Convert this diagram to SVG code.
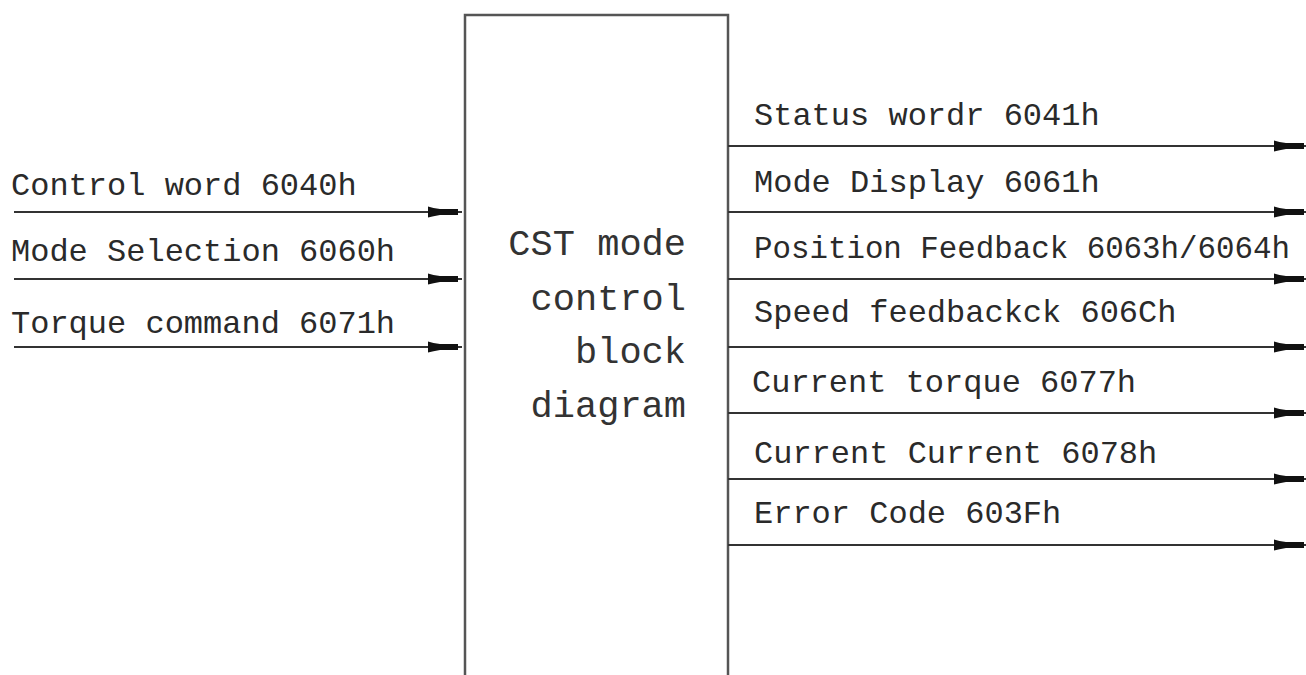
<svg xmlns="http://www.w3.org/2000/svg" xmlns:xlink="http://www.w3.org/1999/xlink" width="1306" height="675" viewBox="0 0 1306 675">
<style>
.lbl{font-family:"Liberation Mono","DejaVu Sans Mono",monospace;font-size:32px;fill:#2a2a2a}
.ctr{font-family:"Liberation Mono","DejaVu Sans Mono",monospace;font-size:37px;fill:#333;text-anchor:end}
.ln{stroke:#333;stroke-width:2.2;fill:none}
.box{stroke:#555;stroke-width:2.5;fill:#fff}
.ah{fill:#111}
</style>
<defs>
<path id="ah" d="M0,-5.5 Q5,-4 12,-3 L30,-3 L30,3 L12,3 Q5,4 0,5.5 Z"/>
</defs>
<rect width="1306" height="675" fill="#fff"/>
<g id="block">
<rect class="box" x="465" y="15" width="263" height="680"/>
<text class="ctr" x="686" y="255">CST mode</text>
<text class="ctr" x="686" y="310">control</text>
<text class="ctr" x="686" y="363">block</text>
<text class="ctr" x="686" y="417">diagram</text>
</g>
<g id="inputs">
<text class="lbl" x="11" y="195">Control word 6040h</text>
<text class="lbl" x="11" y="261">Mode Selection 6060h</text>
<text class="lbl" x="11" y="333">Torque command 6071h</text>
</g>
<g id="outputs">
<text class="lbl" x="754" y="125">Status wordr 6041h</text>
<text class="lbl" x="754" y="192">Mode Display 6061h</text>
<text class="lbl" x="754" y="258" style="font-size:30.8px">Position Feedback 6063h/6064h</text>
<text class="lbl" x="754" y="322">Speed feedbackck 606Ch</text>
<text class="lbl" x="752" y="392">Current torque 6077h</text>
<text class="lbl" x="754" y="463">Current Current 6078h</text>
<text class="lbl" x="754" y="523">Error Code 603Fh</text>
</g>
<g id="connectors">
<line class="ln" x1="14" y1="212" x2="462" y2="212"/>
<line class="ln" x1="14" y1="279" x2="462" y2="279"/>
<line class="ln" x1="14" y1="347" x2="462" y2="347"/>
<use class="ah" xlink:href="#ah" x="428" y="212"/>
<use class="ah" xlink:href="#ah" x="428" y="279"/>
<use class="ah" xlink:href="#ah" x="428" y="347"/>
<line class="ln" x1="728" y1="146" x2="1306" y2="146"/>
<line class="ln" x1="728" y1="212" x2="1306" y2="212"/>
<line class="ln" x1="728" y1="279" x2="1306" y2="279"/>
<line class="ln" x1="728" y1="347" x2="1306" y2="347"/>
<line class="ln" x1="728" y1="413" x2="1306" y2="413"/>
<line class="ln" x1="728" y1="479" x2="1306" y2="479"/>
<line class="ln" x1="728" y1="545" x2="1306" y2="545"/>
<use class="ah" xlink:href="#ah" x="1274" y="146"/>
<use class="ah" xlink:href="#ah" x="1274" y="212"/>
<use class="ah" xlink:href="#ah" x="1274" y="279"/>
<use class="ah" xlink:href="#ah" x="1274" y="347"/>
<use class="ah" xlink:href="#ah" x="1274" y="413"/>
<use class="ah" xlink:href="#ah" x="1274" y="479"/>
<use class="ah" xlink:href="#ah" x="1274" y="545"/>
</g>
</svg>
